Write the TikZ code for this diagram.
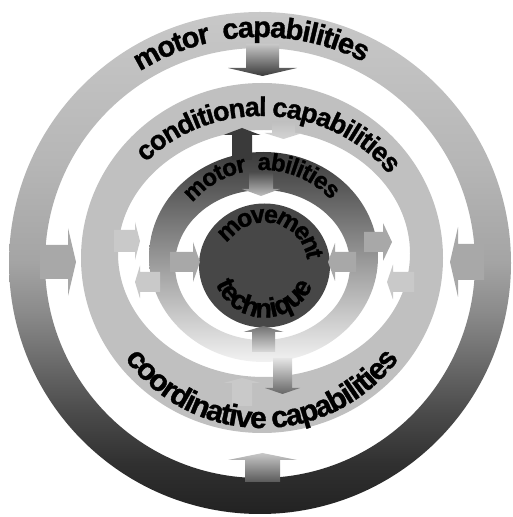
\documentclass[tikz,border=0pt]{standalone}
\usepackage{fontspec}
\setmainfont{Liberation Sans}
\newfontfamily\cf{Liberation Sans}[BoldFeatures={FakeBold=1.2}]
\usetikzlibrary{decorations.text}
\definecolor{rA}{HTML}{222222}
\definecolor{rB}{HTML}{303030}
\definecolor{rC}{HTML}{4A4A4A}
\definecolor{rD}{HTML}{8A8A8A}
\definecolor{rE}{HTML}{A4A4A4}
\definecolor{rF}{HTML}{B6B6B6}
\definecolor{rG}{HTML}{C8C8C8}
\definecolor{ringtwo}{HTML}{C0C0C0}
\definecolor{rthreeT}{HTML}{3A3A3A}
\definecolor{rthreeM}{HTML}{A0A0A0}
\definecolor{rthreeB}{HTML}{F2F2F2}
\definecolor{diskc}{HTML}{474747}
\definecolor{midg}{HTML}{A8A8A8}
\definecolor{lightg}{HTML}{C9C9C9}
\definecolor{darkg}{HTML}{3A3A3A}
\pgfdeclareverticalshading{ringone}{100bp}{color(0bp)=(rA); color(25bp)=(rA); color(30bp)=(rB); color(35bp)=(rC); color(45bp)=(rD); color(50bp)=(rE); color(60bp)=(rF); color(75bp)=(rG); color(100bp)=(rG)}
\newcommand{\varr}[7]{\path[#7] ({#1-#2},{517-#4}) -- ({#1-#2},{517-#5}) -- ({#1-#3},{517-#5}) -- (#1,{517-#6}) -- ({#1+#3},{517-#5}) -- ({#1+#2},{517-#5}) -- ({#1+#2},{517-#4}) -- cycle;}
\newcommand{\harr}[7]{\path[#7] (#4,{517-#1+#2}) -- (#5,{517-#1+#2}) -- (#5,{517-#1+#3}) -- (#6,{517-#1}) -- (#5,{517-#1-#3}) -- (#5,{517-#1-#2}) -- (#4,{517-#1-#2}) -- cycle;}
\newcommand{\fA}{\cf\bfseries\fontsize{29}{29}\selectfont\kern-1.2pt}
\newcommand{\fB}{\cf\bfseries\fontsize{27}{27}\selectfont\kern-1.1pt}
\newcommand{\fC}{\cf\bfseries\fontsize{30}{30}\selectfont\kern-1.3pt}
\newcommand{\fD}{\cf\bfseries\fontsize{24}{24}\selectfont\kern-0.9pt}
\newcommand{\fE}{\cf\bfseries\fontsize{25}{25}\selectfont\kern-2.6pt}
\newcommand{\fF}{\cf\bfseries\fontsize{27}{27}\selectfont\kern-0.4pt}
\tikzset{arctext/.style={decorate, decoration={text along path, text align=center, text={#1}}}}
\begin{document}
\begin{tikzpicture}[x=1pt,y=1pt]
\useasboundingbox (0,0) rectangle (513,517);
% rings
\shade[shading=ringone, even odd rule] (260,254) circle[radius=251] (260,254) circle[radius=215];
\fill[ringtwo, even odd rule] (262,259) ellipse[x radius=181,y radius=175] (264,263.5) ellipse[x radius=146,y radius=123.5];
\shade[top color=rthreeT, middle color=rthreeM, bottom color=rthreeB, even odd rule] (263.5,260) ellipse[x radius=114.5,y radius=105] (262.5,252) ellipse[x radius=87.5,y radius=75];
\fill[diskc] (264.5,251.5) ellipse[x radius=65.5,y radius=62];
% arrows
\varr{262.5}{16.5}{34.5}{44}{68}{76}{top color=rG, bottom color=darkg}
\varr{283.5}{11.5}{19}{122}{133}{139}{top color=ringtwo, bottom color=lightg!80!white}
\varr{242}{10}{18.5}{160}{135}{128}{fill=darkg}
\varr{261}{12}{19}{172}{189}{196}{top color=black!70, bottom color=black!25}
\harr{262}{17}{34}{40}{68}{76}{fill=midg}
\harr{262}{18}{35}{484}{458}{450}{fill=midg}
\harr{241}{11}{19}{114}{135}{140}{fill=lightg}
\harr{282}{10}{16.5}{160}{140}{135}{fill=lightg}
\harr{262}{10}{20}{170}{193}{200}{fill=midg}
\harr{262}{10}{19}{356}{335}{328}{fill=midg}
\harr{242}{10}{19}{364}{383}{392}{fill=midg}
\harr{282}{10}{17.5}{414}{393}{387}{fill=lightg}
\varr{263.5}{11.5}{20}{352}{332}{326}{top color=black!55, bottom color=black!15}
\varr{282.5}{9.5}{17.5}{358}{388}{394}{top color=black!10, bottom color=black!60}
\varr{242}{10}{18.5}{406}{383}{378}{fill=lightg}
\varr{262.5}{17.5}{34.5}{482}{460}{453}{top color=rG, bottom color=black!65}
% texts
\path[arctext={|\fA|motor{ }{ }capabilities}] (260,254) ++(182.2:226) arc[start angle=182.2, end angle=2.2, radius=226];
\path[arctext={|\fB|conditional capabilities}] (262,259) ++(176.5:157 and 142) arc[start angle=176.5, end angle=-3.5, x radius=157, y radius=142];
\path[arctext={|\fC|coordinative capabilities}] (262,259) ++(180.2:170) arc[start angle=180.2, end angle=360.2, radius=170];
\path[arctext={|\fD|motor{ }{ }abilities}] (263,255) ++(180.9:92) arc[start angle=180.9, end angle=0.9, radius=92];
\path[arctext={|\fE|movement}] (264.5,251.5) ++(167.2:43) arc[start angle=167.2, end angle=-12.8, radius=43];
\path[arctext={|\fF|technique}] (264.5,251.5) ++(179.2:52) arc[start angle=179.2, end angle=359.2, radius=52];
\end{tikzpicture}
\end{document}
